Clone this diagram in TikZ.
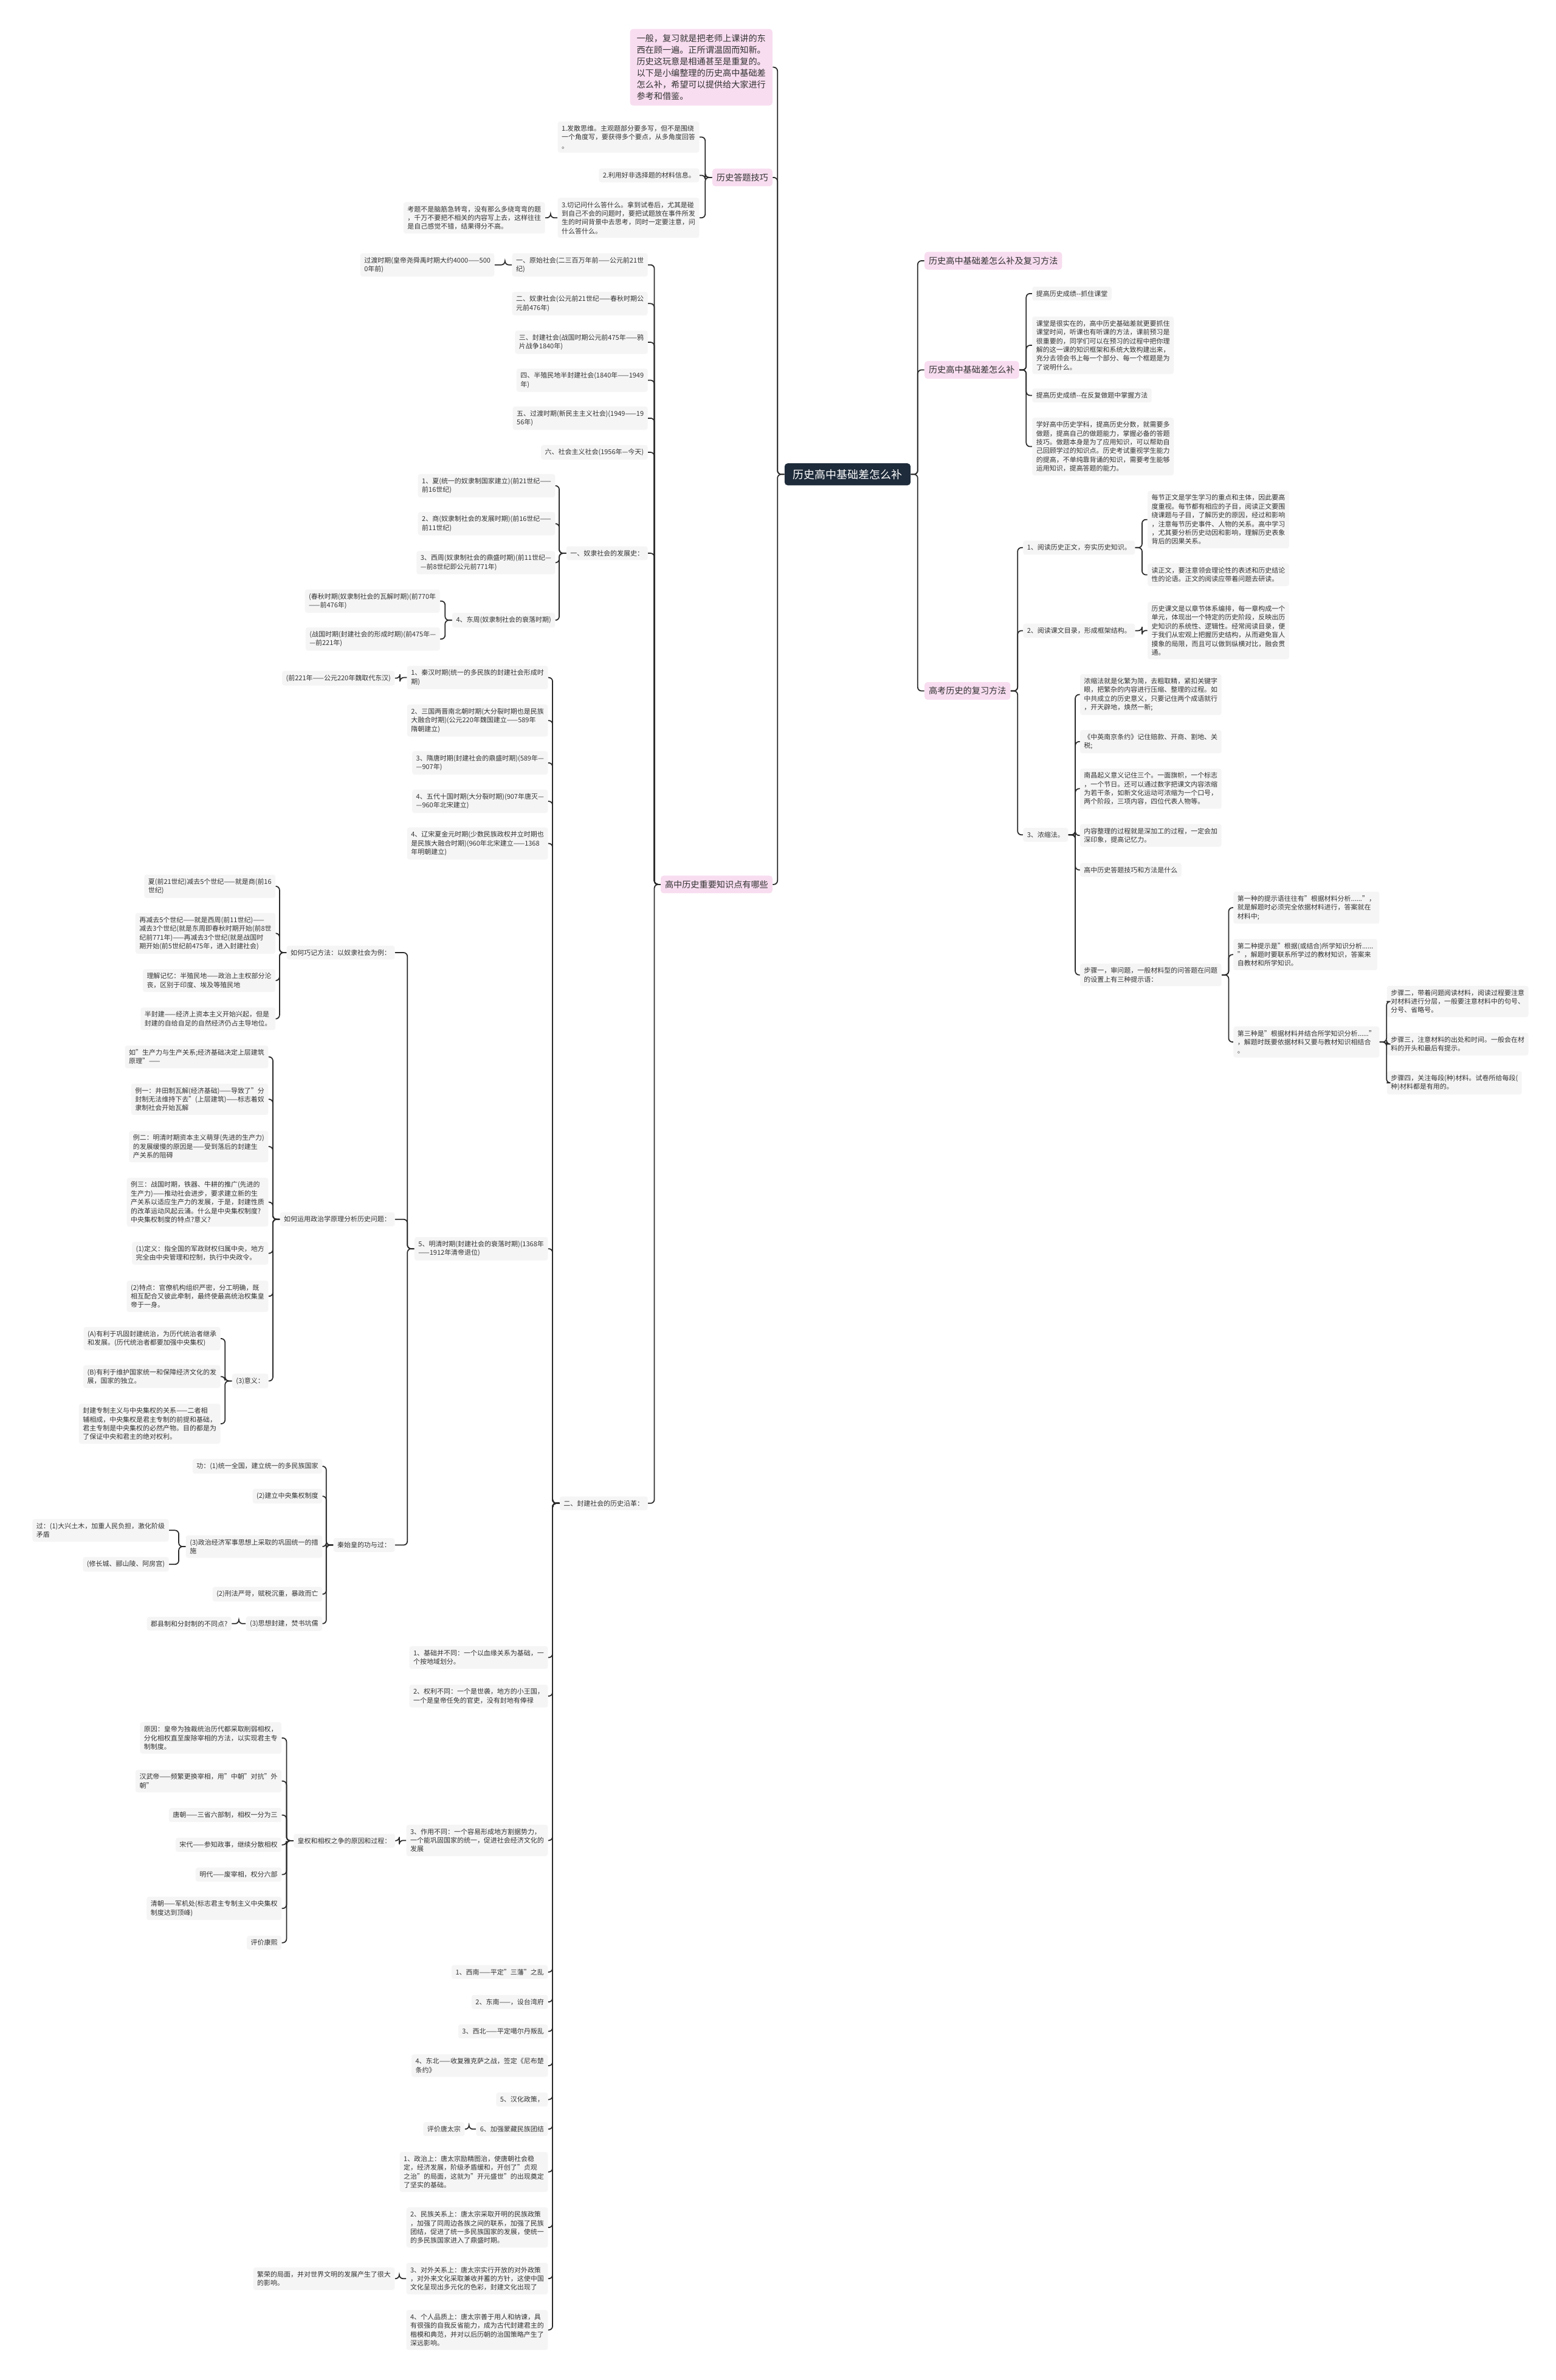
\documentclass[tikz,border=0pt]{standalone}
\usepackage{fontspec}
\setmainfont{Noto Sans CJK SC}
\definecolor{leafgray}{HTML}{F5F5F5}
\definecolor{topicpink}{HTML}{F8DDF0}
\definecolor{rootnavy}{HTML}{1E2B3A}
\definecolor{inkgray}{HTML}{333333}
\definecolor{wiregray}{HTML}{2A2A2A}
\tikzset{
  leaf/.style={fill=leafgray, rounded corners=1.5pt, inner xsep=2.6pt, inner ysep=2.5pt,
    align=left, text=inkgray, font=\fontsize{4.4}{5.75}\selectfont},
  topic/.style={fill=topicpink, rounded corners=2pt, inner xsep=2.8pt, inner ysep=3.2pt,
    align=left, text=inkgray, font=\fontsize{5.67}{7.55}\selectfont},
  rootbox/.style={fill=rootnavy, text=white, rounded corners=2pt, inner xsep=5.5pt,
    inner ysep=3.9pt, font=\fontsize{7.2}{8}\selectfont},
  wire/.style={draw=wiregray, line width=0.7pt, rounded corners=2.5pt}
}
\begin{document}
\begin{tikzpicture}[x=1pt, y=-1pt]
    \fill[white] (0,0) rectangle (1025,1568);
    \useasboundingbox (0,0) rectangle (1025,1568);

    \node[rootbox] (root) at (558.5,312.5) {历史高中基础差怎么补};

    \node[topic, anchor=east, inner xsep=4.4pt, inner ysep=3.7pt] (intro) at (509.2,44.3) {一般，复习就是把老师上课讲的东\\西在顾一遍。正所谓温固而知新。\\历史这玩意是相通甚至是重复的。\\以下是小编整理的历史高中基础差\\怎么补，希望可以提供给大家进行\\参考和借鉴。};
    \node[topic, anchor=east] (tips) at (509.2,116.9) {历史答题技巧};
    \node[topic, anchor=east] (know) at (509.2,582.7) {高中历史重要知识点有哪些};
    \node[topic, anchor=west] (fix) at (609,171.8) {历史高中基础差怎么补及复习方法};
    \node[topic, anchor=west] (weak) at (609,243.7) {历史高中基础差怎么补};
    \node[topic, anchor=west] (exam) at (609,455.2) {高考历史的复习方法};

    \node[leaf, anchor=east] (t1) at (460.9,90.3) {1.发散思维。主观题部分要多写，但不是围绕\\一个角度写，要获得多个要点，从多角度回答\\。};
    \node[leaf, anchor=east] (t2) at (460.9,115.5) {2.利用好非选择题的材料信息。};
    \node[leaf, anchor=east] (t3) at (460.9,143.5) {3.切记问什么答什么。拿到试卷后，尤其是碰\\到自己不会的问题时，要把试题放在事件所发\\生的时间背景中去思考，同时一定要注意，问\\什么答什么。};
    \node[leaf, anchor=east] (t31) at (359.3,143.5) {考题不是脑筋急转弯，没有那么多绕弯弯的题\\，千万不要把不相关的内容写上去，这样往往\\是自己感觉不错，结果得分不高。};

    \node[leaf, anchor=east] (g1) at (427,174.5) {一、原始社会(二三百万年前——公元前21世\\纪)};
    \node[leaf, anchor=east] (g11) at (326,174.5) {过渡时期(皇帝尧舜禹时期大约4000——500\\0年前)};
    \node[leaf, anchor=east] (g2) at (427,200) {二、奴隶社会(公元前21世纪——春秋时期公\\元前476年)};
    \node[leaf, anchor=east] (g3) at (427,225.5) {三、封建社会(战国时期公元前475年——鸦\\片战争1840年)};
    \node[leaf, anchor=east] (g4) at (427,250.5) {四、半殖民地半封建社会(1840年——1949\\年)};
    \node[leaf, anchor=east] (g5) at (427,275.5) {五、过渡时期(新民主主义社会)(1949——19\\56年)};
    \node[leaf, anchor=east] (g6) at (427,298) {六、社会主义社会(1956年—今天)};
    \node[leaf, anchor=east] (sl) at (427,364.5) {一、奴隶社会的发展史：};
    \node[leaf, anchor=east] (fe) at (427,990.4) {二、封建社会的历史沿革：};

    \node[leaf, anchor=east] (s1) at (366,320) {1、夏(统一的奴隶制国家建立)(前21世纪——\\前16世纪)};
    \node[leaf, anchor=east] (s2) at (366,345) {2、商(奴隶制社会的发展时期)(前16世纪——\\前11世纪)};
    \node[leaf, anchor=east] (s3) at (366,370.7) {3、西周(奴隶制社会的鼎盛时期)(前11世纪—\\—前8世纪即公元前771年)};
    \node[leaf, anchor=east] (s4) at (366,408.6) {4、东周(奴隶制社会的衰落时期)};
    \node[leaf, anchor=east] (s41) at (290,396) {(春秋时期(奴隶制社会的瓦解时期)(前770年\\——前476年)};
    \node[leaf, anchor=east] (s42) at (290,421) {(战国时期(封建社会的形成时期)(前475年—\\—前221年)};

    \node[leaf, anchor=east] (f1) at (361.2,446.4) {1、秦汉时期(统一的多民族的封建社会形成时\\期)};
    \node[leaf, anchor=east] (f1a) at (260.3,446.8) {(前221年——公元220年魏取代东汉)};
    \node[leaf, anchor=east] (f2) at (361.2,474.7) {2、三国两晋南北朝时期(大分裂时期也是民族\\大融合时期)(公元220年魏国建立——589年\\隋朝建立)};
    \node[leaf, anchor=east] (f3) at (361.2,502.6) {3、隋唐时期(封建社会的鼎盛时期)(589年—\\—907年)};
    \node[leaf, anchor=east] (f4) at (361.2,527.9) {4、五代十国时期(大分裂时期)(907年唐灭—\\—960年北宋建立)};
    \node[leaf, anchor=east] (f5) at (361.2,555.7) {4、辽宋夏金元时期(少数民族政权并立时期也\\是民族大融合时期)(960年北宋建立——1368\\年明朝建立)};
    \node[leaf, anchor=east] (f6) at (361.2,822.7) {5、明清时期(封建社会的衰落时期)(1368年\\——1912年清帝退位)};
    \node[leaf, anchor=east] (f7) at (361.2,1092) {1、基础并不同：一个以血缘关系为基础，一\\个按地域划分。};
    \node[leaf, anchor=east] (f8) at (361.2,1117.4) {2、权利不同：一个是世袭，地方的小王国，\\一个是皇帝任免的官吏，没有封地有俸禄};
    \node[leaf, anchor=east] (f9) at (361.2,1212.5) {3、作用不同：一个容易形成地方割据势力，\\一个能巩固国家的统一，促进社会经济文化的\\发展};
    \node[leaf, anchor=east] (f10) at (361.2,1299.2) {1、西南——平定"三藩"之乱};
    \node[leaf, anchor=east] (f11) at (361.2,1318.9) {2、东南——，设台湾府};
    \node[leaf, anchor=east] (f12) at (361.2,1338.3) {3、西北——平定噶尔丹叛乱};
    \node[leaf, anchor=east] (f13) at (361.2,1360.9) {4、东北——收复雅克萨之战，签定《尼布楚\\条约》};
    \node[leaf, anchor=east] (f14) at (361.2,1383.2) {5、汉化政策，};
    \node[leaf, anchor=east] (f15) at (361.2,1402.7) {6、加强蒙藏民族团结};
    \node[leaf, anchor=east] (f15a) at (306.3,1402.7) {评价唐太宗};
    \node[leaf, anchor=east] (f16) at (361.2,1430.9) {1、政治上：唐太宗励精图治，使唐朝社会稳\\定，经济发展，阶级矛盾缓和，开创了"贞观\\之治"的局面，这就为"开元盛世"的出现奠定\\了坚实的基础。};
    \node[leaf, anchor=east] (f17) at (361.2,1467.5) {2、民族关系上：唐太宗采取开明的民族政策\\，加强了同周边各族之间的联系，加强了民族\\团结，促进了统一多民族国家的发展，使统一\\的多民族国家进入了鼎盛时期。};
    \node[leaf, anchor=east] (f18) at (361.2,1501.2) {3、对外关系上：唐太宗实行开放的对外政策\\，对外来文化采取兼收并蓄的方针，这使中国\\文化呈现出多元化的色彩，封建文化出现了};
    \node[leaf, anchor=east] (f18a) at (260.3,1501.2) {繁荣的局面，并对世界文明的发展产生了很大\\的影响。};
    \node[leaf, anchor=east] (f19) at (361.2,1535) {4、个人品质上：唐太宗善于用人和纳谏，具\\有很强的自我反省能力，成为古代封建君主的\\楷模和典范，并对以后历朝的治国策略产生了\\深远影响。};

    \node[leaf, anchor=east] (m1) at (260.3,627.6) {如何巧记方法：以奴隶社会为例：};
    \node[leaf, anchor=east] (m2) at (260.3,803.3) {如何运用政治学原理分析历史问题：};
    \node[leaf, anchor=east] (m3) at (260.3,1017.9) {秦始皇的功与过：};

    \node[leaf, anchor=east] (m11) at (181.7,583.9) {夏(前21世纪)减去5个世纪——就是商(前16\\世纪)};
    \node[leaf, anchor=east] (m12) at (181.7,614.9) {再减去5个世纪——就是西周(前11世纪)——\\减去3个世纪(就是东周即春秋时期开始(前8世\\纪前771年)——再减去3个世纪(就是战国时\\期开始(前5世纪前475年，进入封建社会)};
    \node[leaf, anchor=east] (m13) at (181.7,646) {理解记忆：半殖民地——政治上主权部分沦\\丧，区别于印度、埃及等殖民地};
    \node[leaf, anchor=east] (m14) at (181.7,671.2) {半封建——经济上资本主义开始兴起，但是\\封建的自给自足的自然经济仍占主导地位。};

    \node[leaf, anchor=east] (m21) at (177,696.3) {如"生产力与生产关系;经济基础决定上层建筑\\原理"——};
    \node[leaf, anchor=east] (m22) at (177,724.2) {例一：井田制瓦解(经济基础)——导致了"分\\封制无法维持下去"(上层建筑)——标志着奴\\隶制社会开始瓦解};
    \node[leaf, anchor=east] (m23) at (177,755.4) {例二：明清时期资本主义萌芽(先进的生产力)\\的发展缓慢的原因是——受到落后的封建生\\产关系的阻碍};
    \node[leaf, anchor=east] (m24) at (177,792) {例三：战国时期，铁器、牛耕的推广(先进的\\生产力)——推动社会进步，要求建立新的生\\产关系以适应生产力的发展，于是，封建性质\\的改革运动风起云涌。什么是中央集权制度?\\中央集权制度的特点?意义?};
    \node[leaf, anchor=east] (m25) at (177,825.7) {(1)定义：指全国的军政财权归属中央，地方\\完全由中央管理和控制，执行中央政令。};
    \node[leaf, anchor=east] (m26) at (177,854) {(2)特点：官僚机构组织严密，分工明确，既\\相互配合又彼此牵制，最终使最高统治权集皇\\帝于一身。};
    \node[leaf, anchor=east] (m27) at (177,909.8) {(3)意义：};

    \node[leaf, anchor=east] (m271) at (145.4,881.9) {(A)有利于巩固封建统治，为历代统治者继承\\和发展。(历代统治者都要加强中央集权)};
    \node[leaf, anchor=east] (m272) at (145.4,906.9) {(B)有利于维护国家统一和保障经济文化的发\\展，国家的独立。};
    \node[leaf, anchor=east] (m273) at (145.4,938) {封建专制主义与中央集权的关系——二者相\\辅相成，中央集权是君主专制的前提和基础，\\君主专制是中央集权的必然产物。目的都是为\\了保证中央和君主的绝对权利。};

    \node[leaf, anchor=east] (q1) at (212.5,966) {功：(1)统一全国，建立统一的多民族国家};
    \node[leaf, anchor=east] (q2) at (212.5,985.7) {(2)建立中央集权制度};
    \node[leaf, anchor=east] (q3) at (212.5,1018.9) {(3)政治经济军事思想上采取的巩固统一的措\\施};
    \node[leaf, anchor=east] (q4) at (212.5,1050.3) {(2)刑法严苛，赋税沉重，暴政而亡};
    \node[leaf, anchor=east] (q5) at (212.5,1069.7) {(3)思想封建，焚书坑儒};
    \node[leaf, anchor=east] (q31) at (111.4,1008.2) {过：(1)大兴土木，加重人民负担，激化阶级\\矛盾};
    \node[leaf, anchor=east] (q32) at (111.4,1030.6) {(修长城、郦山陵、阿房宫)};
    \node[leaf, anchor=east] (q51) at (152.7,1069.7) {郡县制和分封制的不同点?};

    \node[leaf, anchor=east] (hq) at (260.5,1212.7) {皇权和相权之争的原因和过程：};
    \node[leaf, anchor=east] (h1) at (185.7,1145) {原因：皇帝为独裁统治历代都采取削弱相权，\\分化相权直至废除宰相的方法，以实现君主专\\制制度。};
    \node[leaf, anchor=east] (h2) at (185.7,1173.4) {汉武帝——频繁更换宰相，用"中朝"对抗"外\\朝"};
    \node[leaf, anchor=east] (h3) at (185.7,1195.8) {唐朝——三省六部制，相权一分为三};
    \node[leaf, anchor=east] (h4) at (185.7,1215.4) {宋代——参知政事，继续分散相权};
    \node[leaf, anchor=east] (h5) at (185.7,1235) {明代——废宰相，权分六部};
    \node[leaf, anchor=east] (h6) at (185.7,1257.3) {清朝——军机处(标志君主专制主义中央集权\\制度达到顶峰)};
    \node[leaf, anchor=east] (h7) at (185.7,1279.9) {评价康熙};

    \node[leaf, anchor=west] (a1) at (680,193.4) {提高历史成绩-{}-抓住课堂};
    \node[leaf, anchor=west] (a2) at (680,227.5) {课堂是很实在的，高中历史基础差就更要抓住\\课堂时间，听课也有听课的方法，课前预习是\\很重要的，同学们可以在预习的过程中把你理\\解的这一课的知识框架和系统大致构建出来，\\充分去领会书上每一个部分、每一个框题是为\\了说明什么。};
    \node[leaf, anchor=west] (a3) at (680,260.5) {提高历史成绩-{}-在反复做题中掌握方法};
    \node[leaf, anchor=west] (a4) at (680,294.2) {学好高中历史学科，提高历史分数，就需要多\\做题，提高自己的做题能力，掌握必备的答题\\技巧。做题本身是为了应用知识，可以帮助自\\己回顾学过的知识点。历史考试重视学生能力\\的提高，不单纯靠背诵的知识，需要考生能够\\运用知识，提高答题的能力。};

    \node[leaf, anchor=west] (b1) at (674,360.8) {1、阅读历史正文，夯实历史知识。};
    \node[leaf, anchor=west] (b2) at (674,415.5) {2、阅读课文目录，形成框架结构。};
    \node[leaf, anchor=west] (b3) at (674,550) {3、浓缩法。};
    \node[leaf, anchor=west] (b11) at (756,342.3) {每节正文是学生学习的重点和主体，因此要高\\度重视。每节都有相应的子目，阅读正文要围\\绕课题与子目，了解历史的原因，经过和影响\\，注意每节历史事件、人物的关系。高中学习\\，尤其要分析历史动因和影响，理解历史表象\\背后的因果关系。};
    \node[leaf, anchor=west] (b12) at (756,378.7) {读正文，要注意领会理论性的表述和历史结论\\性的论语。正文的阅读应带着问题去研读。};
    \node[leaf, anchor=west] (b21) at (756,415.4) {历史课文是以章节体系编排，每一章构成一个\\单元，体现出一个特定的历史阶段，反映出历\\史知识的系统性、逻辑性。经常阅读目录，便\\于我们从宏观上把握历史结构，从而避免盲人\\摸象的局限，而且可以做到纵横对比，融会贯\\通。};

    \node[leaf, anchor=west] (c1) at (711.5,457.6) {浓缩法就是化繁为简，去粗取精，紧扣关键字\\眼，把繁杂的内容进行压缩、整理的过程。如\\中共成立的历史意义，只要记住两个成语就行\\，开天辟地，焕然一新;};
    \node[leaf, anchor=west] (c2) at (711.5,488.6) {《中英南京条约》记住赔款、开商、割地、关\\税;};
    \node[leaf, anchor=west] (c3) at (711.5,519.6) {南昌起义意义记住三个。一面旗帜，一个标志\\，一个节日。还可以通过数字把课文内容浓缩\\为若干条，如新文化运动可浓缩为一个口号，\\两个阶段，三项内容，四位代表人物等。};
    \node[leaf, anchor=west] (c4) at (711.5,550.4) {内容整理的过程就是深加工的过程，一定会加\\深印象，提高记忆力。};
    \node[leaf, anchor=west] (c5) at (711.5,573.1) {高中历史答题技巧和方法是什么};
    \node[leaf, anchor=west] (c6) at (711.5,642.3) {步骤一，审问题，一般材料型的问答题在问题\\的设置上有三种提示语：};

    \node[leaf, anchor=west] (d1) at (812.6,598) {第一种的提示语往往有"根据材料分析......"，\\就是解题时必须完全依据材料进行，答案就在\\材料中;};
    \node[leaf, anchor=west] (d2) at (812.6,628.9) {第二种提示是"根据(或结合)所学知识分析......\\"，解题时要联系所学过的教材知识，答案来\\自教材和所学知识。};
    \node[leaf, anchor=west] (d3) at (812.6,686.5) {第三种是"根据材料并结合所学知识分析......"\\，解题时既要依据材料又要与教材知识相结合\\。};
    \node[leaf, anchor=west] (e1) at (913.7,659.8) {步骤二，带着问题阅读材料，阅读过程要注意\\对材料进行分层，一般要注意材料中的句号、\\分号、省略号。};
    \node[leaf, anchor=west] (e2) at (913.7,687.9) {步骤三，注意材料的出处和时间。一般会在材\\料的开头和最后有提示。};
    \node[leaf, anchor=west] (e3) at (913.7,713.4) {步骤四，关注每段(种)材料。试卷所给每段(\\种)材料都是有用的。};

    \foreach \c in {intro,tips,know} \draw[wire] (root.west) -- ++(-4.5,0) |- (\c.east);
    \foreach \c in {t1,t2,t3} \draw[wire] (tips.west) -- ++(-4.5,0) |- (\c.east);
    \draw[wire] (t3.west) -- ++(-4.5,0) |- (t31.east);
    \foreach \c in {g1,g2,g3,g4,g5,g6,sl,fe} \draw[wire] (know.west) -- ++(-4,0) |- (\c.east);
    \draw[wire] (g1.west) -- ++(-4.5,0) |- (g11.east);
    \foreach \c in {s1,s2,s3,s4} \draw[wire] (sl.west) -- ++(-4.5,0) |- (\c.east);
    \foreach \c in {s41,s42} \draw[wire] (s4.west) -- ++(-4.5,0) |- (\c.east);
    \foreach \c in {f1,f2,f3,f4,f5,f6,f7,f8,f9,f10,f11,f12,f13,f14,f15,f16,f17,f18,f19}
        \draw[wire] (fe.west) -- ++(-4.5,0) |- (\c.east);
    \draw[wire] (f1.west) -- ++(-4.5,0) |- (f1a.east);
    \draw[wire] (f15.west) -- ++(-4.5,0) |- (f15a.east);
    \draw[wire] (f18.west) -- ++(-4.5,0) |- (f18a.east);
    \draw[wire] (f9.west) -- ++(-4.5,0) |- (hq.east);
    \foreach \c in {m1,m2,m3} \draw[wire] (f6.west) -- ++(-4.5,0) |- (\c.east);
    \foreach \c in {m11,m12,m13,m14} \draw[wire] (m1.west) -- ++(-4.5,0) |- (\c.east);
    \foreach \c in {m21,m22,m23,m24,m25,m26,m27} \draw[wire] (m2.west) -- ++(-4.5,0) |- (\c.east);
    \foreach \c in {m271,m272,m273} \draw[wire] (m27.west) -- ++(-4.5,0) |- (\c.east);
    \foreach \c in {q1,q2,q3,q4,q5} \draw[wire] (m3.west) -- ++(-4.5,0) |- (\c.east);
    \foreach \c in {q31,q32} \draw[wire] (q3.west) -- ++(-4.5,0) |- (\c.east);
    \draw[wire] (q5.west) -- ++(-4.5,0) |- (q51.east);
    \foreach \c in {h1,h2,h3,h4,h5,h6,h7} \draw[wire] (hq.west) -- ++(-4.5,0) |- (\c.east);

    \foreach \c in {fix,weak,exam} \draw[wire] (root.east) -- ++(4.5,0) |- (\c.west);
    \foreach \c in {a1,a2,a3,a4} \draw[wire] (weak.east) -- ++(4.5,0) |- (\c.west);
    \foreach \c in {b1,b2,b3} \draw[wire] (exam.east) -- ++(4.5,0) |- (\c.west);
    \foreach \c in {b11,b12} \draw[wire] (b1.east) -- ++(4.5,0) |- (\c.west);
    \draw[wire] (b2.east) -- ++(4.5,0) |- (b21.west);
    \foreach \c in {c1,c2,c3,c4,c5,c6} \draw[wire] (b3.east) -- ++(4.5,0) |- (\c.west);
    \foreach \c in {d1,d2,d3} \draw[wire] (c6.east) -- ++(4.5,0) |- (\c.west);
    \foreach \c in {e1,e2,e3} \draw[wire] (d3.east) -- ++(4.5,0) |- (\c.west);
\end{tikzpicture}
\end{document}
